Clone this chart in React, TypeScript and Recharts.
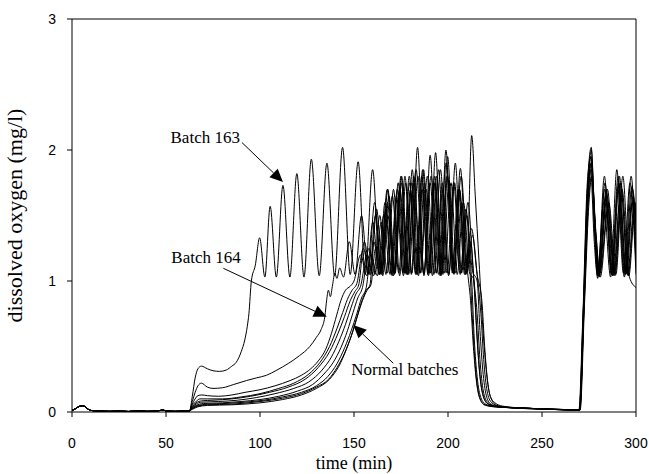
import React from "react";
import { LineChart, Line, XAxis, YAxis, ReferenceLine } from "recharts";

type Pt = [number, number];

const xTicks = [0, 50, 100, 150, 200, 250, 300];
const yTicks = [0, 1, 2, 3];

// common start of every run: small bump, then near zero until feed starts
const startup: Pt[] = [
  [0, 0.012], [1.5, 0.022], [3, 0.036], [4.5, 0.046], [5.8, 0.048], [7, 0.04],
  [8.5, 0.022], [10, 0.012], [15, 0.007], [20, 0.005], [25, 0.007], [30, 0.004],
  [35, 0.008], [40, 0.005], [45, 0.007], [48.4, 0.015], [50, 0.008], [55, 0.005],
  [60, 0.007], [62.4, 0.008],
];

const batch163: Pt[] = [
  [62.6, 0.01], [64, 0.12], [65.5, 0.26], [67, 0.33], [68.8, 0.35], [72, 0.33], [75, 0.315],
  [78.5, 0.31], [82, 0.32], [85, 0.35], [87.4, 0.38], [90, 0.46], [91.9, 0.55], [93.2, 0.65],
  [94.1, 0.75], [95.4, 1.0], [97.5, 1.12], [99.8, 1.33], [102.6, 1.03], [105.4, 1.57],
  [108.7, 1.03], [112.2, 1.73], [115.9, 1.03], [119.6, 1.82], [123.4, 1.03], [127.3, 1.93],
  [131.5, 1.04], [135.6, 1.9], [139.7, 1.04], [143.9, 2.02], [148, 1.05], [152.2, 1.91],
  [156, 1.05], [159.9, 1.85], [163.8, 1.05], [167.7, 1.7], [171.5, 1.06], [175.3, 1.8],
  [179.1, 1.05], [183, 1.85], [187, 1.06], [191, 1.8], [195, 1.05], [199, 1.9], [203, 1.06],
  [207, 1.8], [210.2, 1.1], [212, 0.85], [213.5, 0.5], [215, 0.25], [217, 0.1], [220, 0.05],
  [226, 0.04], [240, 0.03], [255, 0.022], [269.8, 0.015],
  [272, 0.8], [274.5, 1.75], [276.2, 2.0], [278, 1.5], [279.8, 1.05], [283.5, 1.75], [287, 1.06],
  [290.5, 1.8], [294, 1.05], [297.8, 1.72], [300, 1.3],
];

const batch164: Pt[] = [
  [62.6, 0.01], [64, 0.08], [65.5, 0.15], [67, 0.2], [68.8, 0.22], [72, 0.19], [75, 0.18],
  [80, 0.185], [86, 0.21], [92.8, 0.24], [98, 0.26], [103.4, 0.28], [109, 0.32], [115, 0.37],
  [121, 0.43], [126.5, 0.5], [130, 0.57], [132.5, 0.63], [134.5, 0.73], [135.5, 0.86],
  [136.4, 0.93], [137.4, 0.88], [138.6, 0.97], [139.8, 1.06], [140.9, 1.02], [142.4, 1.1],
  [144.4, 1.03], [147.5, 1.3], [150.6, 1.05], [154, 1.5], [157.5, 1.05], [161, 1.6],
  [164.5, 1.06], [168, 1.7], [171.5, 1.05], [175, 1.8], [178.5, 1.05], [182, 1.75],
  [185.5, 1.06], [189, 1.8], [192.5, 1.05], [196, 1.85], [199.5, 1.06], [203, 1.75],
  [206.5, 1.05], [209.6, 1.55], [211.8, 1.05], [213.2, 0.65], [214.7, 0.32], [216.5, 0.13],
  [219, 0.06], [224, 0.04], [240, 0.03], [255, 0.02], [270.2, 0.015],
  [272.2, 0.75], [274.6, 1.7], [276, 1.95], [278.2, 1.4], [280.3, 1.04], [284.2, 1.7],
  [287.8, 1.04], [291.5, 1.6], [295, 1.06], [298.5, 1.65], [300, 1.45],
];

const normal1: Pt[] = [
  [62.6, 0.01], [64, 0.06], [65.5, 0.1], [67, 0.125], [69, 0.13], [72, 0.125], [78, 0.12],
  [85, 0.13], [92, 0.15], [100, 0.17], [108, 0.2], [116, 0.24], [122, 0.28], [127, 0.33],
  [131, 0.39], [135, 0.48], [138, 0.6], [140.8, 0.74], [143, 0.85], [145.5, 0.93], [148, 0.96],
  [150, 1.0], [153.5, 1.2], [156.8, 1.04], [160, 1.45], [163.3, 1.05], [166.5, 1.6],
  [169.8, 1.06], [173, 1.7], [176.3, 1.04], [179.5, 1.75], [182.8, 1.06], [186, 1.8],
  [189.3, 1.05], [192.5, 1.75], [195.8, 1.04], [198.9, 2.0], [202.3, 1.06], [205.5, 1.7],
  [208.8, 1.05], [211, 1.25], [212.6, 1.0], [214, 0.55], [215.5, 0.27], [217.5, 0.11],
  [220, 0.06], [225, 0.04], [240, 0.03], [255, 0.02], [270, 0.015],
  [272.3, 0.85], [274.5, 1.65], [276.3, 1.9], [278.5, 1.35], [280.5, 1.03], [284.6, 1.65],
  [288.3, 1.05], [292, 1.75], [295.5, 1.05], [299.2, 1.6], [300, 1.5],
];

const normal2: Pt[] = [
  [62.6, 0.01], [64, 0.05], [66, 0.08], [68, 0.1], [72, 0.1], [80, 0.1], [90, 0.115],
  [100, 0.14], [110, 0.18], [118, 0.22], [126, 0.29], [132, 0.38], [137, 0.5], [141, 0.64],
  [144, 0.76], [146.5, 0.86], [149, 0.93], [151.5, 0.98], [155, 1.25], [158.2, 1.05],
  [161.4, 1.5], [164.6, 1.06], [167.8, 1.6], [171, 1.04], [174.2, 1.7], [177.4, 1.06],
  [180.6, 1.75], [183.8, 1.05], [187, 1.85], [190.2, 1.06], [193.4, 1.98], [196.6, 1.05],
  [199.8, 1.8], [203, 1.06], [206.2, 1.7], [209.5, 1.05], [212, 1.3], [214, 0.95],
  [215.5, 0.55], [217, 0.27], [219, 0.11], [221.5, 0.06], [227, 0.04], [240, 0.03],
  [255, 0.02], [269.8, 0.015],
  [271.8, 0.7], [274.2, 1.7], [275.8, 1.85], [277.8, 1.3], [279.5, 1.04], [282.8, 1.6],
  [286.5, 1.03], [289.8, 1.85], [293.3, 1.06], [296.8, 1.75], [300, 1.05],
];

const normal3: Pt[] = [
  [62.6, 0.01], [64, 0.04], [66, 0.07], [69, 0.085], [75, 0.09], [85, 0.1], [95, 0.12],
  [105, 0.15], [115, 0.19], [124, 0.25], [131, 0.34], [137, 0.46], [141.5, 0.6], [145, 0.73],
  [148, 0.85], [150.5, 0.92], [152.5, 0.97], [155.5, 1.3], [158.8, 1.05], [162, 1.55],
  [165.3, 1.04], [168.6, 1.65], [171.9, 1.06], [175.2, 1.75], [178.5, 1.05], [181.8, 1.8],
  [185.1, 1.06], [188.4, 1.7], [191.7, 1.04], [195, 1.85], [198.3, 1.06], [201.6, 1.75],
  [204.9, 1.05], [208.2, 1.6], [211.5, 1.06], [213.5, 1.02], [215, 0.7], [216.5, 0.36],
  [218.3, 0.15], [220.5, 0.07], [224, 0.045], [230, 0.035], [245, 0.025], [260, 0.02],
  [270, 0.015],
  [272.4, 0.8], [274.7, 1.6], [276.4, 1.8], [278.7, 1.35], [280.8, 1.06], [285, 1.55],
  [288.8, 1.04], [292.6, 1.7], [296.2, 1.04], [299.5, 1.55], [300, 1.5],
];

const normal4: Pt[] = [
  [62.6, 0.01], [64, 0.035], [66, 0.06], [69, 0.075], [78, 0.08], [88, 0.09], [98, 0.11],
  [108, 0.14], [118, 0.18], [126, 0.23], [133, 0.32], [138, 0.42], [142, 0.54], [145.5, 0.67],
  [148.5, 0.8], [151, 0.9], [153.5, 0.96], [157, 1.2], [160.4, 1.04], [163.7, 1.5],
  [167, 1.05], [170.4, 1.65], [173.8, 1.06], [177.1, 1.8], [180.5, 1.05], [183.8, 2.02],
  [187.2, 1.04], [190.5, 1.75], [193.8, 1.06], [197.2, 1.7], [200.5, 1.05], [203.9, 1.9],
  [207.2, 1.06], [210.6, 1.6], [213.5, 1.05], [215.5, 0.75], [217, 0.4], [218.8, 0.16],
  [221, 0.075], [225, 0.045], [235, 0.03], [250, 0.022], [269.6, 0.015],
  [271.7, 0.72], [274.1, 1.75], [276, 1.95], [277.9, 1.4], [279.6, 1.02], [283.2, 1.8],
  [286.8, 1.05], [290.4, 1.7], [293.8, 1.03], [297.4, 1.8], [300, 1.1],
];

const normal5: Pt[] = [
  [62.6, 0.01], [64, 0.03], [66, 0.05], [70, 0.065], [80, 0.07], [90, 0.08], [100, 0.095],
  [110, 0.12], [120, 0.16], [128, 0.21], [134, 0.29], [139, 0.38], [143, 0.49], [146.5, 0.62],
  [149.5, 0.76], [152, 0.87], [154.5, 0.95], [158, 1.25], [161.2, 1.05], [164.5, 1.45],
  [167.8, 1.06], [171, 1.7], [174.3, 1.04], [177.5, 1.75], [180.8, 1.06], [184, 1.8],
  [187.3, 1.05], [190.5, 1.96], [193.8, 1.06], [197, 1.75], [200.3, 1.04], [203.5, 1.75],
  [206.8, 1.06], [210, 1.5], [213, 1.08], [215.5, 1.0], [217, 0.62], [218.5, 0.32],
  [220.3, 0.13], [222.5, 0.065], [227, 0.04], [240, 0.03], [255, 0.02], [270, 0.015],
  [272.2, 0.78], [274.6, 1.65], [276.3, 1.85], [278.3, 1.4], [280.2, 1.05], [283.9, 1.65],
  [287.5, 1.04], [291.2, 1.8], [294.6, 1.05], [298.2, 1.7], [300, 1.4],
];

const normal6: Pt[] = [
  [62.6, 0.01], [64, 0.03], [67, 0.05], [72, 0.06], [82, 0.065], [92, 0.075], [102, 0.09],
  [112, 0.115], [122, 0.15], [130, 0.2], [136, 0.27], [141, 0.37], [145, 0.49], [148.5, 0.62],
  [151.5, 0.75], [154, 0.87], [156.5, 0.95], [159, 1.2], [162.4, 1.04], [165.8, 1.5],
  [169.2, 1.05], [172.6, 1.65], [176, 1.06], [179.4, 1.8], [182.8, 1.05], [186.2, 1.7],
  [189.6, 1.04], [193, 1.8], [196.4, 1.06], [199.8, 1.95], [203.2, 1.05], [206.6, 1.86],
  [210, 1.06], [213, 1.35], [215.5, 1.05], [217.5, 0.75], [219, 0.4], [220.8, 0.16],
  [223, 0.075], [227, 0.045], [240, 0.03], [255, 0.022], [270, 0.015],
  [272.3, 0.8], [274.6, 1.7], [276.1, 1.9], [278.1, 1.4], [280, 1.04], [284.8, 1.7],
  [288.6, 1.06], [292.3, 1.65], [295.8, 1.04], [299.5, 1.6], [300, 1.55],
];

const normal7: Pt[] = [
  [62.6, 0.01], [64, 0.025], [67, 0.045], [72, 0.055], [85, 0.06], [100, 0.08], [112, 0.105],
  [122, 0.14], [130, 0.19], [136.5, 0.25], [141, 0.34], [145, 0.45], [148.5, 0.58],
  [151.5, 0.72], [154, 0.84], [156.5, 0.93], [158.5, 0.97], [160.5, 1.3], [163.8, 1.05],
  [167, 1.55], [170.3, 1.04], [173.5, 1.75], [176.8, 1.06], [180, 1.7], [183.3, 1.05],
  [186.5, 1.85], [189.8, 1.06], [193, 1.75], [196.3, 1.04], [199.5, 1.8], [202.8, 1.06],
  [206, 1.7], [209.3, 1.05], [212.5, 1.4], [215.5, 1.05], [218, 0.85], [219.5, 0.5],
  [221, 0.24], [223, 0.1], [226, 0.05], [232, 0.035], [245, 0.025], [260, 0.02],
  [270.3, 0.015],
  [272.6, 0.82], [275, 1.6], [276.5, 1.8], [278.8, 1.35], [281, 1.03], [285.5, 1.6],
  [289.3, 1.05], [293, 1.8], [296.5, 1.03], [300, 0.95],
];

const normal8: Pt[] = [
  [62.6, 0.01], [64, 0.02], [67, 0.04], [72, 0.05], [85, 0.055], [100, 0.07], [112, 0.095],
  [122, 0.13], [130, 0.18], [137, 0.25], [142, 0.35], [146, 0.48], [149.5, 0.62], [152, 0.74],
  [154.5, 0.85], [157, 0.93], [159, 0.97], [161.5, 1.25], [164.8, 1.05], [168, 1.5],
  [171.3, 1.06], [174.5, 1.7], [177.8, 1.05], [181, 1.85], [184.3, 1.04], [187.5, 1.75],
  [190.8, 1.06], [194, 1.8], [197.3, 1.05], [200.5, 1.75], [203.8, 1.06], [207.2, 1.6],
  [210, 1.1], [212.6, 2.11], [214.5, 1.65], [216.5, 1.15], [218.5, 0.65], [220.5, 0.3],
  [222.5, 0.12], [225, 0.07], [229, 0.045], [240, 0.03], [255, 0.022], [270, 0.015],
  [272.2, 0.8], [274.5, 1.8], [276.2, 2.02], [278, 1.4], [279.7, 1.04], [283.4, 1.7],
  [287.2, 1.05], [290.8, 1.75], [294.4, 1.05], [298, 1.6], [300, 1.2],
];

const batches = [
  { name: "normal1", pts: normal1 },
  { name: "normal2", pts: normal2 },
  { name: "normal3", pts: normal3 },
  { name: "normal4", pts: normal4 },
  { name: "normal5", pts: normal5 },
  { name: "normal6", pts: normal6 },
  { name: "normal7", pts: normal7 },
  { name: "normal8", pts: normal8 },
  { name: "batch164", pts: batch164 },
  { name: "batch163", pts: batch163 },
].map((b) => ({
  name: b.name,
  data: [...startup, ...b.pts].map(([t, v]) => ({ t, v })),
}));

// annotation arrows, in data units: tail -> tip, text placed relative to tail
const arrows = [
  { text: "Batch 163", from: { x: 90.4, y: 2.057 }, to: { x: 112.2, y: 1.756 }, dx: -2, dy: 0, anchor: "end" },
  { text: "Batch 164", from: { x: 80.5, y: 1.097 }, to: { x: 135.5, y: 0.727 }, dx: -52, dy: -5, anchor: "start" },
  { text: "Normal batches", from: { x: 170.9, y: 0.372 }, to: { x: 149.6, y: 0.664 }, dx: -42, dy: 12, anchor: "start" },
];

const SERIF = "'Liberation Serif', 'Times New Roman', serif";
const SANS = "'Liberation Sans', Arial, sans-serif";

const arrowShape = (text: string, dx: number, dy: number, anchor: string) =>
  (props: any) => {
    const { x1, y1, x2, y2 } = props;
    const len = Math.hypot(x2 - x1, y2 - y1) || 1;
    const ux = (x2 - x1) / len;
    const uy = (y2 - y1) / len;
    const headLen = 13;
    const halfW = 6;
    const bx = x2 - ux * headLen;
    const by = y2 - uy * headLen;
    const head = `${x2},${y2} ${bx - uy * halfW},${by + ux * halfW} ${bx + uy * halfW},${by - ux * halfW}`;
    return (
      <g>
        <line x1={x1} y1={y1} x2={bx} y2={by} stroke="#000" strokeWidth={1} />
        <polygon points={head} fill="#000" />
        <text x={x1 + dx} y={y1 + dy} textAnchor={anchor as any} fontFamily={SERIF} fontSize={17} fill="#000">
          {text}
        </text>
      </g>
    );
  };

const XTitle = (props: any) => {
  const vb = props.viewBox || { x: 72, y: 412, width: 564, height: 62 };
  return (
    <text x={vb.x + vb.width / 2} y={vb.y + 57} textAnchor="middle" fontFamily={SERIF} fontSize={18} fill="#000">
      time (min)
    </text>
  );
};

const YTitle = (props: any) => {
  const vb = props.viewBox || { x: 0, y: 19, width: 72, height: 393 };
  const cy = vb.y + vb.height / 2;
  return (
    <text transform={`translate(22,${cy}) rotate(-90)`} textAnchor="middle" fontFamily={SERIF} fontSize={22} fill="#000">
      dissolved oxygen (mg/l)
    </text>
  );
};

export default function App() {
  return (
    <div style={{ position: "absolute", left: 0, top: 0, width: 649, height: 474, background: "#fff" }}>
      <LineChart width={649} height={474} margin={{ top: 19, right: 13, bottom: 0, left: 0 }}>
        <XAxis
          type="number"
          dataKey="t"
          domain={[0, 300]}
          ticks={xTicks}
          allowDataOverflow
          height={62}
          tickSize={5}
          tickMargin={21}
          stroke="#000"
          tick={{ fill: "#000", fontSize: 14, fontFamily: SANS }}
          label={XTitle}
        />
        <YAxis
          type="number"
          dataKey="v"
          domain={[0, 3]}
          ticks={yTicks}
          allowDataOverflow
          width={72}
          tickSize={5}
          tickMargin={11}
          stroke="#000"
          tick={{ fill: "#000", fontSize: 14, fontFamily: SANS }}
          label={YTitle}
        />
        <ReferenceLine y={3} stroke="#000" strokeWidth={1} />
        <ReferenceLine x={300} stroke="#000" strokeWidth={1} />
        {batches.map((b) => (
          <Line
            key={b.name}
            data={b.data}
            dataKey="v"
            type="monotone"
            stroke="#000"
            strokeWidth={1}
            dot={false}
            activeDot={false}
            isAnimationActive={false}
          />
        ))}
        {arrows.map((a) => (
          <ReferenceLine
            key={a.text}
            segment={[a.from, a.to]}
            shape={arrowShape(a.text, a.dx, a.dy, a.anchor)}
          />
        ))}
      </LineChart>
    </div>
  );
}
